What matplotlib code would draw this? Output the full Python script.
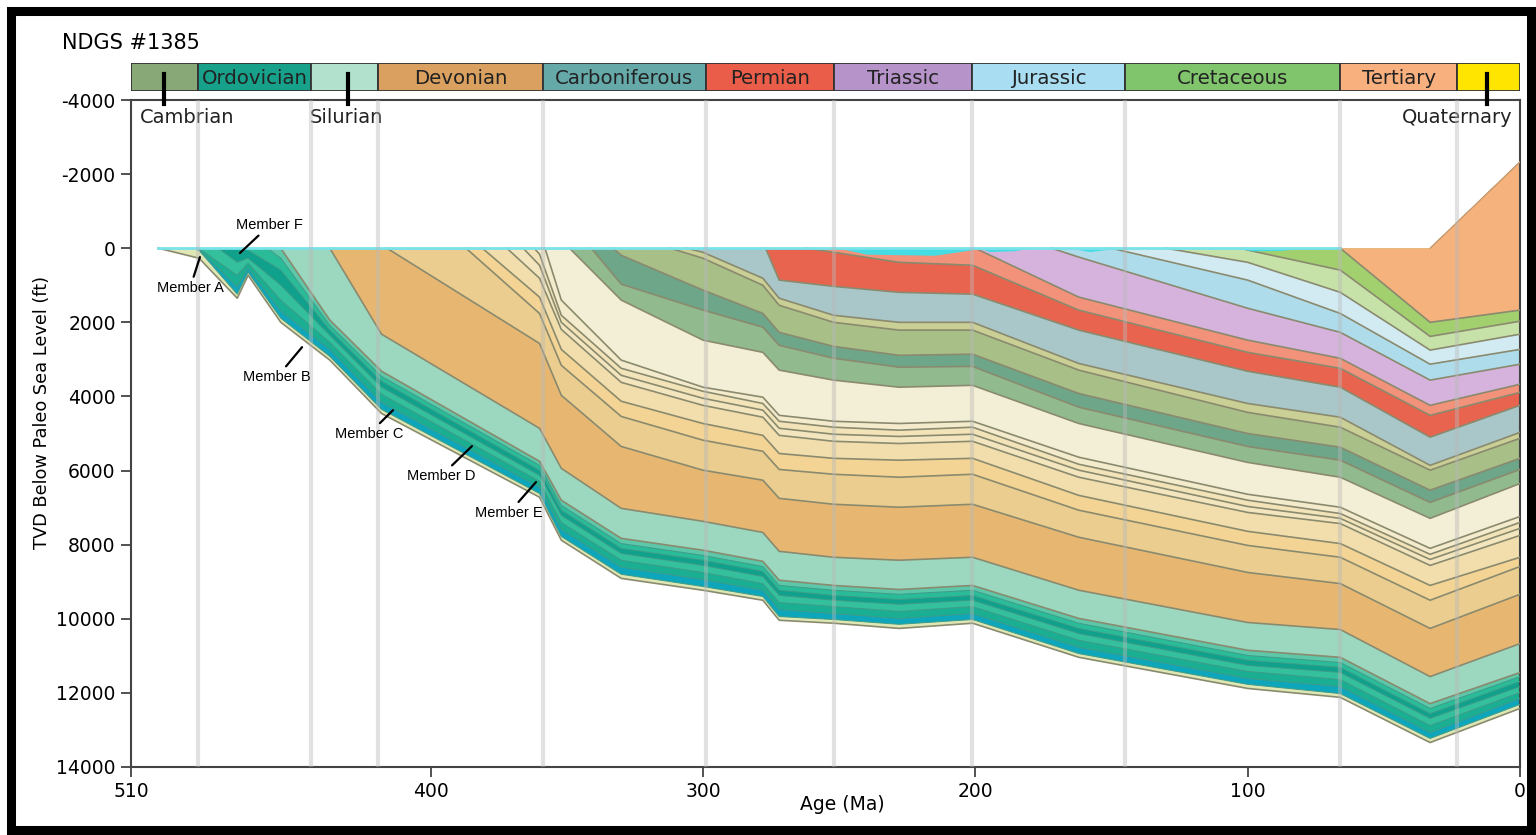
import numpy as np
import matplotlib.pyplot as plt
from matplotlib.patches import Rectangle
from matplotlib.transforms import blended_transform_factory

plt.rcParams['font.family'] = 'DejaVu Sans'
plt.rcParams['axes.unicode_minus'] = False

nan = np.nan

# geologic periods (Ma)
period_names = ["Cambrian", "Ordovician", "Silurian", "Devonian", "Carboniferous", "Permian",
                "Triassic", "Jurassic", "Cretaceous", "Tertiary", "Quaternary"]
period_start = [510, 485.4, 443.8, 419.2, 358.9, 298.9, 251.9, 201.3, 145.0, 66.0, 23.0]
period_end = [485.4, 443.8, 419.2, 358.9, 298.9, 251.9, 201.3, 145.0, 66.0, 23.0, 0]
period_colors = ["#88a877", "#17a08a", "#b2e1cd", "#d9a05f", "#66a9a9", "#ea5d49",
                 "#b693c9", "#a9def2", "#80c46c", "#f8b07f", "#ffe500"]
# periods labelled below the bar instead of inside it: (name, tick age, label age)
outside_labels = [("Cambrian", 498, 489.4), ("Silurian", 430.3, 431), ("Quaternary", 12, 23)]

# key ages at which horizon depths were read (Ma)
ages = [485, 471, 467, 455, 437, 418, 360, 352, 330, 300, 278, 272, 252, 228, 201, 162, 100, 66, 33, 0]
# top of the sediment column (ft below paleo sea level)
surface = [0, 0, 0, 0, 0, 0, 0, 0, 0, 0, 0, 0, 0, 0, 0, 0, 0, 0, 0, -2330]

# horizons, oldest first: age when deposition of the layer above began, and depth (ft) at each key age
horizon_start = [500, 487, 486, 485.5, 478, 468, 460, 455, 437, 416, 387, 381, 372, 366, 362,
                 358, 349, 341, 333, 312, 306, 277, 262, 200, 172, 150, 130, 102, 66]
horizon_depth = [
    [270, 1350, 730, 2000, 3020, 4460, 6720, 7880, 8910, 9230, 9500, 10040, 10120, 10260, 10120, 11040, 11880, 12120, 13340, 12420],
    [60, 1240, 650, 1890, 2920, 4350, 6620, 7780, 8800, 9130, 9400, 9940, 10020, 10150, 10020, 10940, 11770, 12020, 13230, 12310],
    [30, 1050, 540, 1700, 2730, 4160, 6450, 7590, 8610, 8940, 9230, 9750, 9860, 9990, 9860, 10770, 11610, 11830, 13070, 12150],
    [10, 730, 400, 1400, 2540, 3940, 6290, 7400, 8420, 8750, 9050, 9560, 9670, 9800, 9670, 10580, 11420, 11640, 12880, 11990],
    [nan, 380, 270, 1000, 2350, 3750, 6130, 7210, 8240, 8560, 8860, 9370, 9500, 9610, 9500, 10400, 11260, 11450, 12690, 11830],
    [nan, nan, 50, 590, 2210, 3590, 5990, 7070, 8100, 8420, 8720, 9230, 9370, 9480, 9370, 10260, 11120, 11310, 12560, 11690],
    [nan, nan, nan, 270, 2080, 3460, 5860, 6940, 7970, 8290, 8590, 9100, 9230, 9340, 9230, 10120, 10990, 11180, 12420, 11560],
    [nan, nan, nan, nan, 1940, 3320, 5750, 6800, 7830, 8150, 8450, 8960, 9100, 9210, 9100, 9990, 10850, 11040, 12290, 11450],
    [nan, nan, nan, nan, nan, 2320, 4860, 5940, 7020, 7370, 7670, 8180, 8340, 8420, 8340, 9230, 10100, 10290, 11560, 10670],
    [nan, nan, nan, nan, nan, nan, 2570, 3970, 5350, 5990, 6260, 6750, 6910, 6990, 6910, 7800, 8750, 9050, 10260, 9340],
    [nan, nan, nan, nan, nan, nan, 1760, 3160, 4540, 5180, 5480, 5970, 6100, 6180, 6100, 7070, 8020, 8340, 9500, 8590],
    [nan, nan, nan, nan, nan, nan, 1320, 2730, 4130, 4730, 5050, 5540, 5670, 5720, 5670, 6670, 7640, 7970, 9100, 8340],
    [nan, nan, nan, nan, nan, nan, 810, 2190, 3620, 4240, 4560, 5050, 5210, 5270, 5210, 6180, 7130, 7430, 8560, 7750],
    [nan, nan, nan, nan, nan, nan, 460, 2000, 3430, 4050, 4370, 4860, 5020, 5080, 5020, 5990, 6970, 7290, 8400, 7560],
    [nan, nan, nan, nan, nan, nan, 160, 1810, 3240, 3860, 4190, 4670, 4830, 4910, 4830, 5830, 6800, 7160, 8260, 7400],
    [nan, nan, nan, nan, nan, nan, nan, 1400, 3020, 3750, 4020, 4510, 4670, 4730, 4670, 5640, 6640, 6990, 8100, 7240],
    [nan, nan, nan, nan, nan, nan, nan, nan, 1400, 2480, 2810, 3290, 3560, 3750, 3700, 4730, 5780, 6180, 7290, 6350],
    [nan, nan, nan, nan, nan, nan, nan, nan, 970, 1670, 2130, 2620, 2970, 3210, 3190, 4290, 5350, 5720, 6860, 5970],
    [nan, nan, nan, nan, nan, nan, nan, nan, 190, 1130, 1760, 2270, 2650, 2890, 2860, 3920, 5000, 5370, 6530, 5670],
    [nan, nan, nan, nan, nan, nan, nan, nan, nan, 270, 1000, 1540, 2000, 2210, 2210, 3290, 4430, 4830, 5990, 5130],
    [nan, nan, nan, nan, nan, nan, nan, nan, nan, 110, 810, 1350, 1810, 2000, 2000, 3110, 4190, 4560, 5860, 4970],
    [nan, nan, nan, nan, nan, nan, nan, nan, nan, nan, nan, 860, 1030, 1190, 1240, 2210, 3320, 3750, 5100, 4240],
    [nan, nan, nan, nan, nan, nan, nan, nan, nan, nan, nan, nan, 110, 380, 460, 1670, 2810, 3240, 4510, 3890],
    [nan, nan, nan, nan, nan, nan, nan, nan, nan, nan, nan, nan, nan, nan, nan, 1320, 2480, 2970, 4240, 3670],
    [nan, nan, nan, nan, nan, nan, nan, nan, nan, nan, nan, nan, nan, nan, nan, 240, 1620, 2270, 3560, 3130],
    [nan, nan, nan, nan, nan, nan, nan, nan, nan, nan, nan, nan, nan, nan, nan, nan, 860, 1760, 3130, 2730],
    [nan, nan, nan, nan, nan, nan, nan, nan, nan, nan, nan, nan, nan, nan, nan, nan, 380, 1190, 2750, 2320],
    [nan, nan, nan, nan, nan, nan, nan, nan, nan, nan, nan, nan, nan, nan, nan, nan, 50, 590, 2380, 1970],
    [nan, nan, nan, nan, nan, nan, nan, nan, nan, nan, nan, nan, nan, nan, nan, nan, nan, nan, 2000, 1670],
]
# colour of the layer that sits on top of each horizon
layer_colors = ["#dfe7b4", "#0ea6bb", "#1aae92", "#34c09d", "#10a18c", "#2abb99", "#5cc7a9",
                "#9cd7c0", "#e7b772", "#eacd8f", "#f3d494", "#f2deac", "#f3e6bf", "#f2e3b8",
                "#f4ebcd", "#f3eed6", "#91ba8f", "#6da689", "#a8bf88", "#c9cf95", "#a9c6c8",
                "#e8644e", "#f2927a", "#d6b3dc", "#aedcea", "#d2ebf3", "#c7e2a9", "#a3d06f",
                "#f6b27c"]

# water depth above the sediment surface
water_age = [250, 240, 215, 203, 198, 195, 186, 180, 165, 158, 148, 105, 98, 88, 80]
water_depth = [0, 160, 190, 60, 0, 90, 70, 0, 0, 90, 0, 0, 70, 60, 0]

# member labels: (text, pointer age, pointer depth, label age, label depth)
members = [("Member A", 484.7, 240, 488.3, 1070),
           ("Member B", 447.2, 2670, 456.4, 3480),
           ("Member C", 413.8, 4370, 422.6, 5010),
           ("Member D", 384.8, 5340, 396.2, 6150),
           ("Member E", 361.3, 6310, 371.2, 7140),
           ("Member F", 470.0, 130, 459.0, -630)]

W, H = 1536, 835
fig = plt.figure(figsize=(W / 100, H / 100), dpi=100)
ax = fig.add_axes([131 / W, 1 - 767 / H, 1389 / W, 667 / H])

ages_arr = np.array(ages, dtype=float)
surf_arr = np.array(surface, dtype=float)
for start, row, col in zip(horizon_start, horizon_depth, layer_colors):
    row = np.array(row, dtype=float)
    m = ~np.isnan(row)
    xs = np.concatenate([[start], ages_arr[m]])
    ys = np.concatenate([[0], row[m]])
    top = np.concatenate([[0], surf_arr[m]])
    ax.fill(np.concatenate([xs, xs[::-1]]), np.concatenate([ys, top[::-1]]),
            color=col, lw=0, zorder=2)
for i, (start, row) in enumerate(zip(horizon_start, horizon_depth)):
    row = np.array(row, dtype=float)
    m = ~np.isnan(row)
    xs = np.concatenate([[start], ages_arr[m]])
    ys = np.concatenate([[0], row[m]])
    if 1 <= i <= 6:
        ax.plot(xs, ys, color="#3f9c88", lw=0.7, zorder=3)
    else:
        ax.plot(xs, ys, color="#8a8a6e", lw=1.2, zorder=3)
# outline of the Tertiary top
ax.plot(ages_arr[-2:], surf_arr[-2:], color="#c89a70", lw=1.0, zorder=3)

ax.fill_between(water_age, 0, water_depth, color="#45dde3", lw=0, zorder=4)
ax.plot([500, 66], [0, 0], color="#79e2ea", lw=2.0, zorder=4)

for b in period_start[1:]:
    ax.axvline(b, color="#b9b9b9", lw=3, alpha=0.42, zorder=5)

for name, px, py, tx, ty in members:
    ax.annotate(name, xy=(px, py), xytext=(tx, ty), ha="center", va="center",
                fontsize=10.5, family="Liberation Sans", zorder=6,
                arrowprops=dict(arrowstyle="-", lw=1.6, color="black", shrinkA=1, shrinkB=0))

ax.set_xlim(510, 0)
ax.set_ylim(14000, -4000)
ax.set_xticks([510, 400, 300, 200, 100, 0])
ax.set_yticks(np.arange(-4000, 14001, 2000))
ax.tick_params(direction="out", length=7, width=1.2, labelsize=13.5, color="#333333", pad=4)
for s in ax.spines.values():
    s.set_color("#444444")
    s.set_linewidth(1.5)

# period bar
bx = fig.add_axes([131 / W, 1 - 91 / H, 1389 / W, 28 / H])
bx.set_xlim(510, 0)
bx.set_ylim(0, 1)
bx.axis("off")
for name, s, e, c in zip(period_names, period_start, period_end, period_colors):
    bx.add_patch(Rectangle((e, 0), s - e, 1, facecolor=c, edgecolor="#333333", lw=1.3))
    if name not in [o[0] for o in outside_labels]:
        bx.text((s + e) / 2, 0.45, name, ha="center", va="center", fontsize=14.2, color="#222222")
tr = blended_transform_factory(ax.transData, ax.transAxes)
for name, tick_age, label_age in outside_labels:
    bx.plot([tick_age, tick_age], [0.6, -0.48], color="black", lw=3, clip_on=False, zorder=5)
    ax.text(label_age, 0.9745, name, transform=tr, ha="center", va="center", fontsize=14,
            color="#222222")

fig.text(62 / W, 1 - 43 / H, "NDGS #1385", fontsize=15, va="center", ha="left")
fig.text(842 / W, 1 - 805 / H, "Age (Ma)", fontsize=13.5, va="center", ha="center")
fig.text(42 / W, 1 - 412 / H, "TVD Below Paleo Sea Level (ft)", fontsize=12.8, va="center",
         ha="center", rotation=90)

fig.patches.append(Rectangle((10.5 / W, 5 / H), (1531 - 10.5) / W, (824.5 - 5) / H,
                             transform=fig.transFigure, fill=False, lw=6.5, ec="black"))

fig.savefig("out.png", dpi=100)
